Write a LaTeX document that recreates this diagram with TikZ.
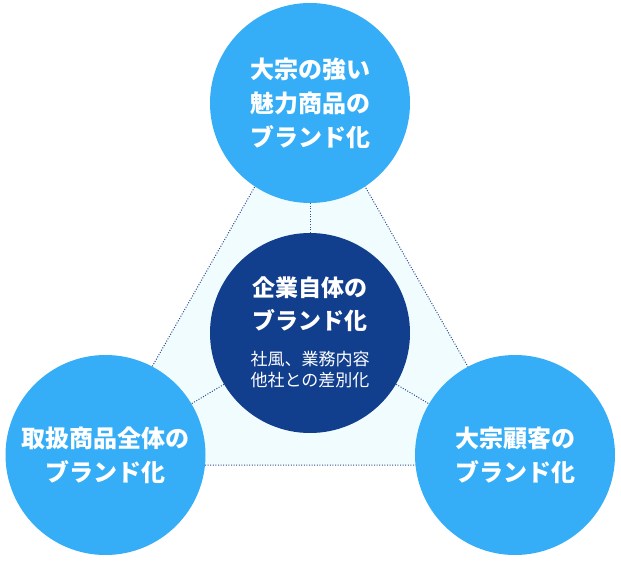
\documentclass[tikz,border=0pt]{standalone}
\usepackage{fontspec}
\newfontfamily\cjk{Noto Sans CJK JP}
\usetikzlibrary{positioning}
\definecolor{bsky}{HTML}{36AEF7}
\definecolor{bnavy}{HTML}{123E8E}
\definecolor{bpale}{HTML}{F1FCFE}
\definecolor{bdot}{HTML}{2F4F90}
\tikzset{
  bouter/.style={circle, fill=bsky, minimum size=200pt, inner sep=0pt,
                 text=white, align=center, font=\cjk\bfseries\fontsize{24}{34}\selectfont},
  bcore/.style={circle, fill=bnavy, minimum size=200pt, inner sep=0pt},
  bhead/.style={text=white, align=center, font=\cjk\bfseries\fontsize{23}{33}\selectfont},
  bsub/.style={text=white, align=center, font=\cjk\fontsize{17}{21}\selectfont},
  bspoke/.style={bdot, dash pattern=on 1pt off 1.6pt, line width=1pt},
  barea/.style={fill=bpale, draw=bdot, dash pattern=on 1pt off 1.6pt, line width=1pt},
}

\begin{document}
\begin{tikzpicture}[x=1pt, y=-1pt]

  \useasboundingbox (0,0) rectangle (621,561);

  % área triangular
  \coordinate (v1) at (310,90);
  \coordinate (v2) at (96,465);
  \coordinate (v3) at (524,465);
  \draw[barea] (v1) -- (v2) -- (v3) -- cycle;

  % círculos externos
  \node[bouter] (topo) at (310,103) {大宗の強い\\魅力商品の\\ブランド化};
  \node[bouter] (esq)  at (105.5,455) {取扱商品全体の\\ブランド化};
  \node[bouter] (dir)  at (515,455) {大宗顧客の\\ブランド化};

  % círculo central
  \node[bcore] (centro) at (310,333) {};
  \node[bhead] (centro-tit) at (310,304) {企業自体の\\ブランド化};
  \node[bsub]  (centro-sub) at (310,370) {社風、業務内容\\他社との差別化};

  % ligações
  \foreach \p in {topo, esq, dir}
    \draw[bspoke] (centro) -- (\p);

\end{tikzpicture}
\end{document}
